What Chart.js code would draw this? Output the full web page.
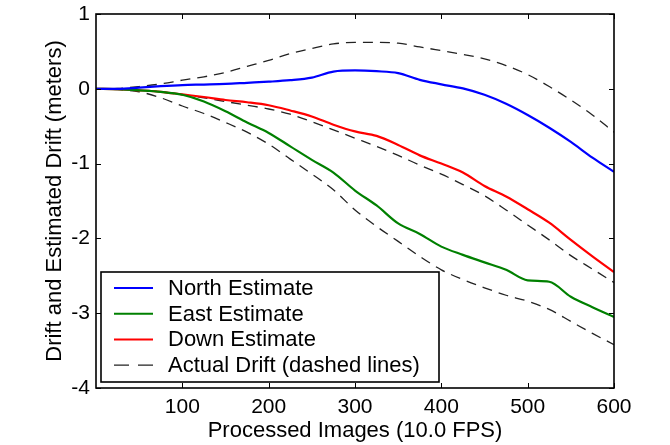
<!DOCTYPE html>
<html>
<head>
<meta charset="utf-8">
<script src="https://cdn.jsdelivr.net/npm/chart.js@4.4.1/dist/chart.umd.min.js"></script>
<style>
  html, body { margin: 0; padding: 0; background: #fff; }
  #wrap { width: 670px; height: 445px; }
</style>
</head>
<body>
<div id="wrap"><canvas id="driftChart" width="670" height="445"></canvas></div>
<script>
// processed image index (10 FPS)
const frames = [0, 25, 50, 75, 100, 125, 150, 175, 200, 225, 250, 275, 300,
                325, 350, 375, 400, 425, 450, 475, 500, 525, 550, 575, 600];

// estimated drift (meters)
const northEstimate = [0, 0, 0.015, 0.035, 0.05, 0.057, 0.065, 0.08, 0.095, 0.115, 0.15, 0.23, 0.245,
                       0.235, 0.21, 0.12, 0.06, 0.005, -0.08, -0.2, -0.35, -0.52, -0.71, -0.92, -1.11];
const eastEstimate = [0, -0.005, -0.02, -0.04, -0.08, -0.17, -0.30, -0.45, -0.59, -0.77, -0.95, -1.12, -1.36,
                      -1.56, -1.80, -1.94, -2.11, -2.22, -2.32, -2.42, -2.56, -2.58, -2.78, -2.92, -3.05];
const downEstimate = [0, -0.005, -0.02, -0.04, -0.075, -0.11, -0.15, -0.18, -0.22, -0.29, -0.37, -0.48, -0.57,
                      -0.63, -0.75, -0.89, -1.00, -1.12, -1.30, -1.44, -1.61, -1.79, -2.02, -2.24, -2.45];

// actual drift (meters)
const northActual = [0, 0.005, 0.03, 0.065, 0.115, 0.16, 0.22, 0.30, 0.38, 0.47, 0.54, 0.60, 0.62,
                     0.62, 0.61, 0.56, 0.51, 0.46, 0.40, 0.31, 0.19, 0.03, -0.15, -0.35, -0.58];
const eastActual = [0, -0.01, -0.04, -0.12, -0.23, -0.33, -0.45, -0.58, -0.74, -0.94, -1.14, -1.35, -1.62,
                    -1.84, -2.04, -2.24, -2.42, -2.55, -2.66, -2.76, -2.84, -2.95, -3.11, -3.27, -3.42];
const downActual = [0, -0.005, -0.02, -0.04, -0.08, -0.12, -0.17, -0.22, -0.27, -0.34, -0.44, -0.55, -0.66,
                    -0.77, -0.89, -1.02, -1.14, -1.28, -1.43, -1.62, -1.82, -2.02, -2.23, -2.41, -2.59];

const xTicks = [100, 200, 300, 400, 500, 600];
const yTicks = [1, 0, -1, -2, -3, -4];
const legendLabels = ['North Estimate', 'East Estimate', 'Down Estimate', 'Actual Drift (dashed lines)'];

const dashColor = 'rgba(15, 15, 15, 0.92)';
const toPoints = vals => vals.map((v, i) => ({ x: frames[i], y: v }));

function estimateSet(label, vals, color) {
    return {
        label: label,
        data: toPoints(vals),
        borderColor: color,
        borderWidth: 2.2,
        pointRadius: 0,
        cubicInterpolationMode: 'monotone',
        fill: false
    };
}

function actualSet(vals) {
    return {
        label: legendLabels[3],
        data: toPoints(vals),
        borderColor: dashColor,
        borderWidth: 1.3,
        borderDash: [10, 7],
        pointRadius: 0,
        cubicInterpolationMode: 'monotone',
        fill: false
    };
}

// box and inward tick marks, matlab style
const frameTicks = {
    id: 'frameTicks',
    afterDatasetsDraw(chart) {
        const { ctx, chartArea: a, scales: { x, y } } = chart;
        const len = 5;
        ctx.save();
        ctx.strokeStyle = '#000';
        ctx.lineWidth = 1;
        ctx.beginPath();
        x.ticks.forEach(t => {
            const px = Math.round(x.getPixelForValue(t.value)) + 0.5;
            ctx.moveTo(px, a.bottom); ctx.lineTo(px, a.bottom - len);
            ctx.moveTo(px, a.top); ctx.lineTo(px, a.top + len);
        });
        y.ticks.forEach(t => {
            const py = Math.round(y.getPixelForValue(t.value)) + 0.5;
            ctx.moveTo(a.left, py); ctx.lineTo(a.left + len, py);
            ctx.moveTo(a.right, py); ctx.lineTo(a.right - len, py);
        });
        ctx.stroke();
        ctx.lineWidth = 1.6;
        ctx.strokeRect(a.left, a.top, a.right - a.left, a.bottom - a.top);
        ctx.restore();
    }
};

// legend box in the lower left corner of the axes
const boxLegend = {
    id: 'boxLegend',
    afterDraw(chart) {
        const { ctx, chartArea: a } = chart;
        const left = a.left + 5, w = 338, h = 110;
        const top = a.bottom - 6 - h;
        const colors = ['#0000ff', '#008000', '#ff0000', dashColor];
        ctx.save();
        ctx.fillStyle = '#fff';
        ctx.fillRect(left, top, w, h);
        ctx.strokeStyle = '#000';
        ctx.lineWidth = 1.6;
        ctx.strokeRect(left, top, w, h);
        ctx.font = '22px "Liberation Sans", Arial, sans-serif';
        ctx.textBaseline = 'middle';
        legendLabels.forEach((lab, i) => {
            const ry = top + 16 + i * 25.7;
            ctx.beginPath();
            ctx.strokeStyle = colors[i];
            if (i === 3) {
                ctx.lineWidth = 1.3;
                ctx.setLineDash([15, 9]);
            } else {
                ctx.lineWidth = 2;
                ctx.setLineDash([]);
            }
            ctx.moveTo(left + 13, ry);
            ctx.lineTo(left + 52, ry);
            ctx.stroke();
            ctx.fillStyle = '#000';
            ctx.fillText(lab, left + 67, ry + 1);
        });
        ctx.restore();
    }
};

Chart.defaults.font.family = '"Liberation Sans", Arial, sans-serif';
Chart.defaults.color = '#000';

const ctx = document.getElementById('driftChart').getContext('2d');
new Chart(ctx, {
    type: 'line',
    data: {
        datasets: [
            estimateSet(legendLabels[0], northEstimate, '#0000ff'),
            estimateSet(legendLabels[1], eastEstimate, '#008000'),
            estimateSet(legendLabels[2], downEstimate, '#ff0000'),
            actualSet(northActual),
            actualSet(eastActual),
            actualSet(downActual)
        ]
    },
    options: {
        responsive: false,
        animation: false,
        layout: { padding: { top: 14, right: 56, left: 0, bottom: 0 } },
        plugins: {
            legend: { display: false },
            tooltip: { enabled: false }
        },
        scales: {
            x: {
                type: 'linear',
                min: 0,
                max: 600,
                afterBuildTicks: s => { s.ticks = xTicks.map(v => ({ value: v })); },
                afterFit: s => { s.height = 57; s.paddingLeft = 0; s.paddingRight = 0; },
                grid: { display: false, drawTicks: false },
                border: { display: false },
                ticks: { font: { size: 21 }, padding: 7, maxRotation: 0 },
                title: {
                    display: true,
                    text: 'Processed Images (10.0 FPS)',
                    font: { size: 22 },
                    padding: { top: 0, bottom: 1 }
                }
            },
            y: {
                type: 'linear',
                min: -4,
                max: 1,
                afterBuildTicks: s => { s.ticks = yTicks.map(v => ({ value: v })); },
                afterFit: s => { s.width = 96; s.paddingTop = 0; s.paddingBottom = 0; },
                grid: { display: false, drawTicks: false },
                border: { display: false },
                ticks: { font: { size: 21 }, padding: 6 },
                title: {
                    display: true,
                    text: 'Drift and Estimated Drift (meters)',
                    font: { size: 22 },
                    padding: { top: 42, bottom: 0 }
                }
            }
        }
    },
    plugins: [frameTicks, boxLegend]
});
</script>
</body>
</html>
